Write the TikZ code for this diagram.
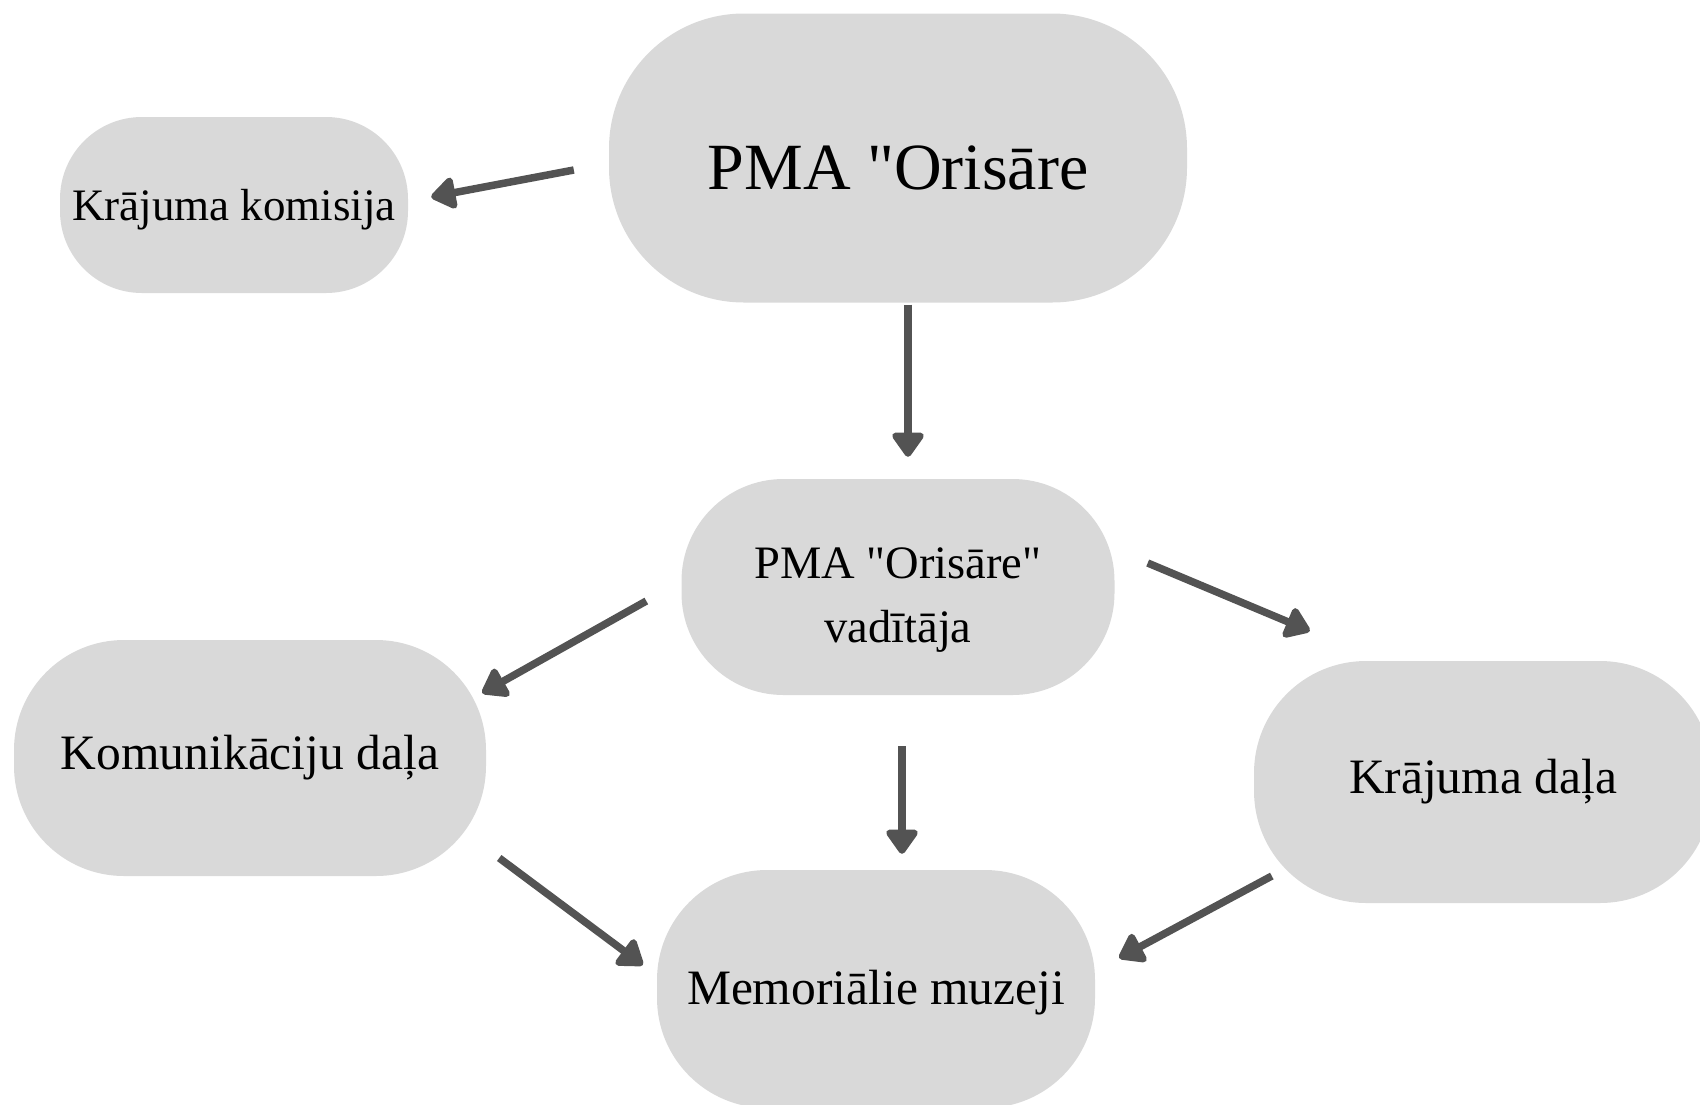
\documentclass[tikz,border=0pt]{standalone}
\usepackage{fontspec}
\setmainfont{Liberation Serif}[Ligatures=TeXOff]
\usetikzlibrary{calc}
\usetikzlibrary{arrows.meta}
\usetikzlibrary{positioning}
\definecolor{boxgray}{HTML}{D9D9D9}
\definecolor{arrowgray}{HTML}{535353}

\begin{document}
\begin{tikzpicture}[x=1pt,y=-1pt,
  blob/.style={fill=boxgray,align=center,inner sep=0pt},
  link/.style={draw=arrowgray,line width=7.5pt,-{Triangle[length=27pt,width=36pt,round]}}]
\useasboundingbox (0,0) rectangle (1700,1104);
\node[blob,minimum width=578pt,minimum height=289pt,rounded corners=135pt,font=\fontsize{66}{76}\selectfont] (org) at (898,158) {\rule{0pt}{64pt}PMA "Orisāre};
\node[blob,minimum width=348pt,minimum height=176pt,rounded corners=82pt,font=\fontsize{45}{54}\selectfont] (commission) at (234,205) {\rule{0pt}{40pt}Krājuma komisija};
\node[blob,minimum width=433pt,minimum height=216pt,rounded corners=102pt,font=\fontsize{46.5}{64}\selectfont] (head) at (898,587) {\rule{0pt}{57pt}PMA "Orisāre"\\vadītāja};
\node[blob,minimum width=472pt,minimum height=236pt,rounded corners=110pt,font=\fontsize{49.5}{58}\selectfont] (commdept) at (250,758) {Komunikāciju daļa};
\node[blob,minimum width=458pt,minimum height=242pt,rounded corners=112pt,font=\fontsize{49.5}{58}\selectfont] (colldept) at (1483,782) {Krājuma daļa};
\node[blob,minimum width=438pt,minimum height=238pt,rounded corners=110pt,font=\fontsize{49.5}{58}\selectfont] (memorial) at (876,989) {\rule{0pt}{42pt}Memoriālie muzeji};
\draw[link] ($(org.west)+(-35,12)$) -- ($(commission.east)+(23,-8)$);
\draw[link] ($(org.south)+(10,2)$) -- ($(head.north)+(10,-22)$);
\draw[link] ($(head.west)+(-35,14)$) -- ($(commdept.east)+(-4,-65)$);
\draw[link] ($(head.east)+(33,-24)$) -- ($(colldept.west)+(56,-151)$);
\draw[link] ($(head.south)+(4,51)$) -- ($(memorial.north)+(26,-16)$);
\draw[link] ($(commdept.east)+(13,100)$) -- ($(memorial.west)+(-14,-24)$);
\draw[link] ($(colldept.west)+(18,94)$) -- ($(memorial.east)+(24,-31)$);
\end{tikzpicture}
\end{document}
